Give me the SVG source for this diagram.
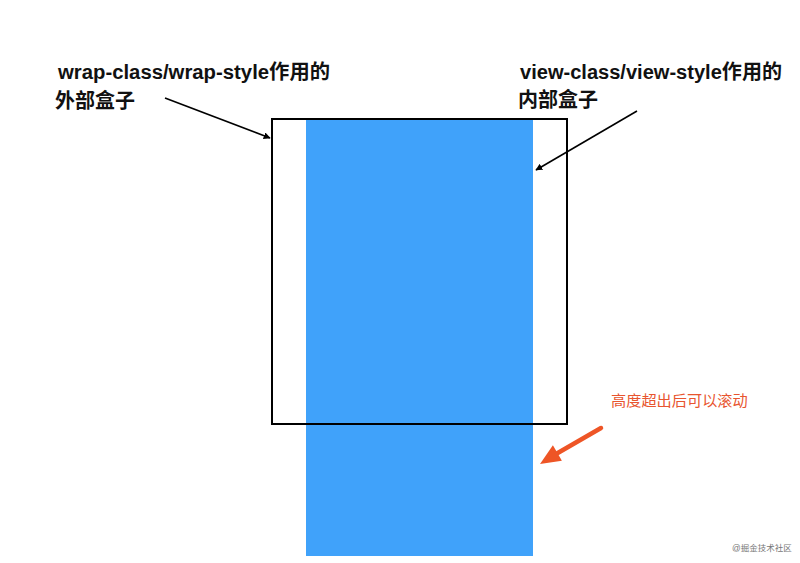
<svg xmlns="http://www.w3.org/2000/svg" width="800" height="563" viewBox="0 0 800 563">
<defs>
<style>
.lbl{font-family:"Liberation Sans","Noto Sans CJK SC",sans-serif;font-weight:bold;font-size:20px;fill:#111}
.note{font-family:"Liberation Sans","Noto Sans CJK SC",sans-serif;font-size:15.2px;fill:#E8552F}
.wm{font-family:"Liberation Sans","Noto Sans CJK SC",sans-serif;font-size:8.5px;fill:#777}
.ln{stroke:#000;stroke-width:1.6;fill:none}
</style>
<marker id="ah" viewBox="0 0 10 10" refX="9" refY="5" markerWidth="7" markerHeight="7" orient="auto" markerUnits="userSpaceOnUse">
<path d="M0,0 L10,5 L0,10 z" fill="#000"/>
</marker>
</defs>
<rect width="800" height="563" fill="#fff"/>
<g id="inner-box">
<rect x="306" y="119" width="227" height="437" fill="#40A2FA"/>
</g>
<g id="outer-box">
<rect x="272" y="119" width="295" height="305" fill="none" stroke="#000" stroke-width="2"/>
</g>
<g id="label-wrap">
<text class="lbl" x="58" y="79" textLength="272" lengthAdjust="spacingAndGlyphs">wrap-class/wrap-style作用的</text>
<text class="lbl" x="55" y="108">外部盒子</text>
</g>
<g id="label-view">
<text class="lbl" x="520" y="79" textLength="262" lengthAdjust="spacingAndGlyphs">view-class/view-style作用的</text>
<text class="lbl" x="518" y="107">内部盒子</text>
</g>
<g id="note-scroll">
<text class="note" x="611" y="406">高度超出后可以滚动</text>
</g>
<g id="connectors">
<line class="ln" x1="165" y1="98" x2="270" y2="138" marker-end="url(#ah)"/>
<line class="ln" x1="637" y1="111" x2="536" y2="170" marker-end="url(#ah)"/>
<line x1="601" y1="428" x2="556" y2="454" stroke="#EE5526" stroke-width="4.5" stroke-linecap="round"/>
<polygon points="540,464 552.9,445.2 561.9,460.8" fill="#EE5526"/>
</g>
<text class="wm" x="732" y="551">@掘金技术社区</text>
</svg>
